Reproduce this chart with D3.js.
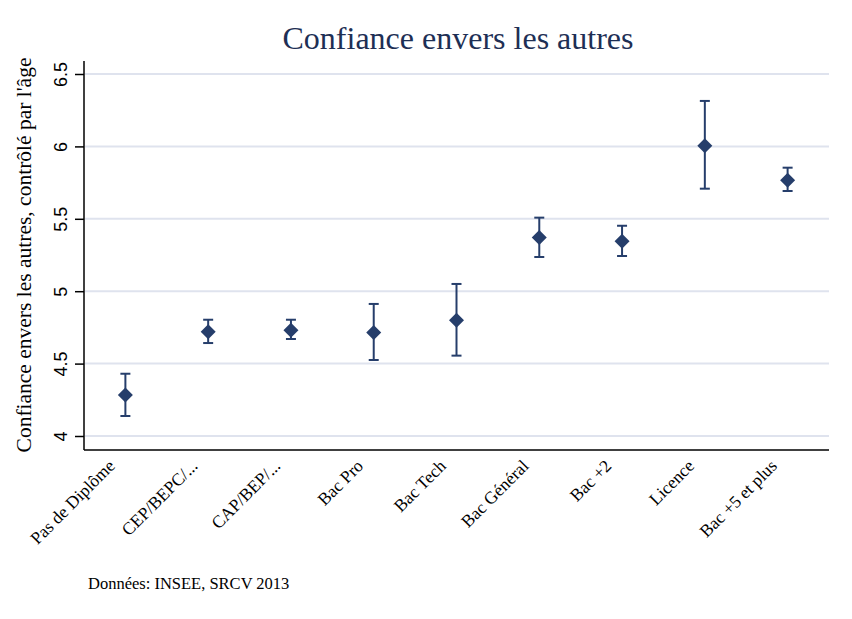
<!DOCTYPE html>
<html><head><meta charset="utf-8">
<script src="https://cdn.jsdelivr.net/npm/d3@7"></script>
<style>body{margin:0;background:#fff}svg{display:block}</style>
</head><body>
<script>
const categories = ["Pas de Diplôme","CEP/BEPC/...","CAP/BEP/...","Bac Pro","Bac Tech","Bac Général","Bac +2","Licence","Bac +5 et plus"];
const means = [4.283, 4.720, 4.730, 4.714, 4.799, 5.370, 5.345, 6.005, 5.766];
const lower = [4.138, 4.642, 4.670, 4.525, 4.555, 5.236, 5.243, 5.708, 5.692];
const upper = [4.430, 4.803, 4.803, 4.912, 5.050, 5.508, 5.452, 6.314, 5.853];
const yTicks = [4, 4.5, 5, 5.5, 6, 6.5];
const yTickLabels = ["4","4.5","5","5.5","6","6.5"];

const W = 852, H = 619;
const mLeft = 84, mRight = 829, mTop = 61, mBottom = 450;
const color = "#263e6b";
const serif = "'Liberation Serif', 'DejaVu Serif', serif";
const svg = d3.select("body").append("svg").attr("width", W).attr("height", H);

const x = d3.scalePoint().domain(categories).range([mLeft, mRight]).padding(0.5);
const y = d3.scaleLinear().domain([4 - (mBottom - 436) / 144.8, 6.5 + (74 - mTop) / 144.8]).range([mBottom, mTop]);

// gridlines
svg.append("g").selectAll("line").data(yTicks).join("line")
  .attr("x1", mLeft + 1).attr("x2", mRight)
  .attr("y1", d => y(d)).attr("y2", d => y(d))
  .attr("stroke", "#dfe3ee").attr("stroke-width", 2);

// y axis
const yAxis = d3.axisLeft(y).tickValues(yTicks).tickSize(9).tickFormat((d, i) => yTickLabels[i]).tickPadding(0);
const gy = svg.append("g").attr("transform", `translate(${mLeft},0)`).call(yAxis);
gy.select(".domain").attr("d", `M0,${mTop}V${mBottom}`).attr("stroke", "#000").attr("stroke-width", 1.5);
gy.selectAll(".tick line").attr("stroke", "#000").attr("stroke-width", 1.5);
gy.selectAll(".tick text").attr("x", 0).attr("y", 0)
  .attr("dy", null)
  .attr("text-anchor", "middle")
  .attr("font-family", "'Liberation Sans', Arial, sans-serif").attr("font-size", 18).attr("fill", "#000")
  .attr("transform", "translate(-17,0) rotate(-90)");

// x axis
const xAxis = d3.axisBottom(x).tickSize(0).tickPadding(0);
const gx = svg.append("g").attr("transform", `translate(0,${mBottom})`).call(xAxis);
gx.select(".domain").attr("d", `M${mLeft},0H${mRight}`).attr("stroke", "#000").attr("stroke-width", 1.5);
gx.selectAll(".tick text")
  .attr("y", 0).attr("dy", null)
  .attr("text-anchor", "end")
  .attr("font-family", serif).attr("font-size", 17.5).attr("fill", "#000")
  .attr("transform", "translate(-10,17) rotate(-45)");

// error bars
const g = svg.append("g");
categories.forEach((c, i) => {
  const cx = x(c);
  g.append("line").attr("x1", cx).attr("x2", cx).attr("y1", y(lower[i])).attr("y2", y(upper[i]))
    .attr("stroke", color).attr("stroke-width", 2);
  [lower[i], upper[i]].forEach(v => {
    g.append("line").attr("x1", cx - 5).attr("x2", cx + 5).attr("y1", y(v)).attr("y2", y(v))
      .attr("stroke", color).attr("stroke-width", 2);
  });
});
// diamonds
g.selectAll("path.pt").data(categories).join("path").attr("class", "pt")
  .attr("d", (c, i) => { const cx = x(c), cy = y(means[i]), r = 7.5; return `M${cx},${cy - r}L${cx + r},${cy}L${cx},${cy + r}L${cx - r},${cy}Z`; })
  .attr("fill", color);

// title
svg.append("text").attr("x", 458).attr("y", 49).attr("text-anchor", "middle")
  .attr("font-family", serif).attr("font-size", 32).attr("fill", "#1e2f55")
  .text("Confiance envers les autres");

// y label
svg.append("text").attr("transform", "translate(31,255) rotate(-90)").attr("text-anchor", "middle")
  .attr("font-family", serif).attr("font-size", 21.5).attr("fill", "#000")
  .text("Confiance envers les autres, contrôlé par l'âge");

// footer
svg.append("text").attr("x", 88).attr("y", 589)
  .attr("font-family", serif).attr("font-size", 16.5).attr("fill", "#000")
  .text("Données: INSEE, SRCV 2013");
</script>
</body></html>
